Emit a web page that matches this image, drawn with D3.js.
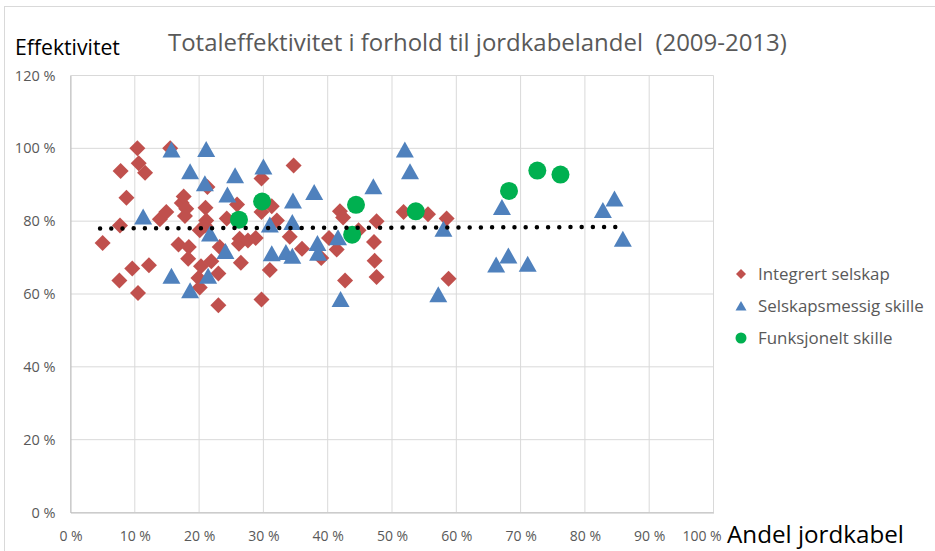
<!DOCTYPE html>
<html>
<head>
<meta charset="utf-8">
<script src="https://cdn.jsdelivr.net/npm/d3@7"></script>
<style>
body { margin: 0; background: #fff; }
svg { display: block; }
</style>
</head>
<body>
<svg id="chart" width="935" height="551"></svg>
<script>
// Data: [andel jordkabel %, effektivitet %]
var integrert = [
  [5.0, 74.0], [7.8, 93.8], [7.7, 78.8], [7.6, 63.7], [8.7, 86.4], [9.6, 67.0],
  [10.4, 100.0], [10.6, 95.9], [11.6, 93.3], [10.5, 60.3], [12.2, 67.9], [13.9, 80.5],
  [14.9, 82.5], [15.5, 100.0], [16.8, 73.6], [17.3, 85.0], [17.6, 86.8], [18.0, 83.4],
  [17.8, 81.4], [18.4, 72.9], [18.3, 69.7], [19.9, 64.4], [20.3, 67.6], [20.1, 61.8],
  [20.1, 77.5], [21.0, 83.7], [21.3, 89.4], [21.1, 80.2], [20.9, 78.8], [21.9, 69.0],
  [23.0, 65.6], [23.2, 72.9], [23.0, 56.9], [24.3, 80.7], [25.9, 84.6], [26.3, 75.2],
  [26.5, 68.6], [26.2, 73.8], [27.6, 74.7], [28.8, 75.4], [29.7, 91.7], [29.7, 82.5],
  [29.7, 58.5], [31.0, 66.6], [31.3, 84.1], [32.1, 80.2], [34.1, 75.7], [34.7, 95.3],
  [36.0, 72.4], [39.0, 69.9], [40.2, 75.4], [41.4, 72.2], [41.9, 82.7], [42.4, 81.0],
  [42.7, 63.7], [47.6, 80.0], [47.2, 74.3], [47.3, 69.1], [47.6, 64.7], [51.8, 82.5],
  [55.6, 81.9], [58.5, 80.7], [58.8, 64.2], [44.8, 77.5]
];

var selskapsmessig = [
  [11.3, 81.3], [15.7, 99.7], [15.7, 65.0], [18.6, 93.7], [18.6, 61.0], [21.1, 99.8],
  [20.9, 90.4], [21.7, 76.6], [21.4, 65.0], [25.6, 92.6], [24.4, 87.3], [24.1, 71.8],
  [30.0, 95.0], [31.0, 79.1], [31.3, 71.2], [33.5, 71.5], [34.5, 70.5], [34.6, 85.7],
  [34.5, 79.8], [37.9, 88.0], [38.4, 74.0], [38.5, 71.3], [41.6, 75.6], [42.0, 58.6],
  [47.1, 89.6], [52.0, 99.7], [52.8, 93.7], [58.0, 77.9], [57.2, 59.9], [66.2, 68.1],
  [67.1, 83.9], [68.1, 70.6], [71.1, 68.3], [82.8, 83.1], [84.6, 86.2], [85.9, 75.2]
];

var funksjonelt = [
  [26.2, 80.4], [29.8, 85.4], [43.8, 76.3], [44.4, 84.5], [53.7, 82.7],
  [68.2, 88.3], [72.6, 93.9], [76.2, 92.8]
];

// linear trend line end points
var trendX = [4.6, 84.9];
var trendY = [78.0, 78.4];

var seriesNames = ["Integrert selskap", "Selskapsmessig skille", "Funksjonelt skille"];
var seriesColors = ["#C0504D", "#4F81BD", "#00B050"];
var xTicks = [0, 10, 20, 30, 40, 50, 60, 70, 80, 90, 100];
var yTicks = [0, 20, 40, 60, 80, 100, 120];

var font = "'Open Sans', Lato, sans-serif";

var svg = d3.select("#chart");

// chart border
svg.append("rect")
  .attr("x", 4.5).attr("y", 6.5)
  .attr("width", 960).attr("height", 600)
  .attr("fill", "none")
  .attr("stroke", "#d9d9d9");

var x = d3.scaleLinear().domain([0, 100]).range([70.5, 713.5]);
var y = d3.scaleLinear().domain([0, 120]).range([512.5, 75.5]);

// gridlines
svg.append("g")
  .selectAll("line")
  .data(yTicks)
  .enter().append("line")
  .attr("x1", x(0)).attr("x2", x(100))
  .attr("y1", d => y(d)).attr("y2", d => y(d))
  .attr("stroke", "#d9d9d9");

svg.append("g")
  .selectAll("line")
  .data(xTicks)
  .enter().append("line")
  .attr("x1", d => x(d)).attr("x2", d => x(d))
  .attr("y1", y(0)).attr("y2", y(120))
  .attr("stroke", "#d9d9d9");

// axes
var pct = d => d + " %";

var gy = svg.append("g")
  .attr("transform", "translate(" + x(0) + ",0)")
  .call(d3.axisLeft(y).tickValues(yTicks).tickFormat(pct).tickSize(0).tickPadding(15));
gy.select(".domain").attr("stroke", "#bfbfbf");
gy.selectAll("text")
  .attr("font-family", font).attr("font-size", 14.5).attr("fill", "#595959");

var gx = svg.append("g")
  .attr("transform", "translate(0," + y(0) + ")")
  .call(d3.axisBottom(x).tickValues(xTicks).tickFormat(pct).tickSize(0).tickPadding(19));
gx.select(".domain").attr("stroke", "#bfbfbf");
gx.selectAll("text")
  .attr("font-family", font).attr("font-size", 14).attr("fill", "#595959");
// last label sits a bit to the left in the original
gx.selectAll(".tick").filter(d => d === 100).select("text").attr("x", -12);

// markers
var diamond = "M0,-8L8,0L0,8L-8,0Z";
var triangle = "M0,-8L9,8L-9,8Z";

svg.append("g")
  .selectAll("path")
  .data(integrert)
  .enter().append("path")
  .attr("d", diamond)
  .attr("transform", d => "translate(" + x(d[0]) + "," + y(d[1]) + ")")
  .attr("fill", seriesColors[0]);

svg.append("g")
  .selectAll("path")
  .data(selskapsmessig)
  .enter().append("path")
  .attr("d", triangle)
  .attr("transform", d => "translate(" + x(d[0]) + "," + y(d[1]) + ")")
  .attr("fill", seriesColors[1]);

svg.append("g")
  .selectAll("circle")
  .data(funksjonelt)
  .enter().append("circle")
  .attr("cx", d => x(d[0]))
  .attr("cy", d => y(d[1]))
  .attr("r", 9)
  .attr("fill", seriesColors[2]);

// dotted trend line
svg.append("line")
  .attr("x1", x(trendX[0])).attr("y1", y(trendY[0]))
  .attr("x2", x(trendX[1])).attr("y2", y(trendY[1]))
  .attr("stroke", "#000")
  .attr("stroke-width", 4.5)
  .attr("stroke-linecap", "round")
  .attr("stroke-dasharray", "0 11.2");

// texts, fitted to the widths in the original
function fit(sel, width) {
  var w = sel.node().getComputedTextLength();
  var fs = +sel.attr("font-size");
  sel.attr("font-size", fs * width / w);
  return sel;
}

fit(svg.append("text")
  .attr("x", 168).attr("y", 51)
  .attr("font-family", font).attr("font-size", 22)
  .attr("fill", "#595959")
  .text("Totaleffektivitet i forhold til jordkabelandel\u00a0 (2009-2013)"), 619);

fit(svg.append("text")
  .attr("x", 15).attr("y", 55)
  .attr("font-family", font).attr("font-size", 20)
  .attr("fill", "#000")
  .text("Effektivitet"), 105);

fit(svg.append("text")
  .attr("x", 727).attr("y", 543)
  .attr("font-family", font).attr("font-size", 20)
  .attr("fill", "#000")
  .text("Andel jordkabel"), 177);

// legend
var legend = svg.append("g")
  .selectAll("g")
  .data(seriesNames)
  .enter().append("g")
  .attr("transform", (d, i) => "translate(741," + (274 + i * 32) + ")");

legend.each(function (d, i) {
  var g = d3.select(this);
  if (i === 0) g.append("path").attr("d", "M0,-5L5,0L0,5L-5,0Z").attr("fill", seriesColors[0]);
  if (i === 1) g.append("path").attr("d", "M0,-5L5.5,4.5L-5.5,4.5Z").attr("fill", seriesColors[1]);
  if (i === 2) g.append("circle").attr("r", 5.5).attr("fill", seriesColors[2]);
  g.append("text")
    .attr("x", 17).attr("dy", "0.35em")
    .attr("font-family", font).attr("font-size", 15)
    .attr("fill", "#595959")
    .text(d);
});

// size legend text so the second (longest) label matches the original width
var legendText = legend.selectAll("text");
var longW = d3.select(legendText.nodes()[1]).node().getComputedTextLength();
legendText.attr("font-size", 15 * 166 / longW);
</script>
</body>
</html>
